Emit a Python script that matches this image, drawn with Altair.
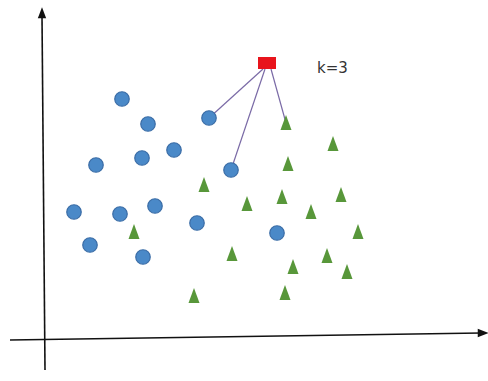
import altair as alt
import pandas as pd

# Sample points of two classes (x, y in plane coordinates, y grows downward)
circle_x = [122, 148, 209, 96, 142, 174, 231, 74, 120, 155, 197, 277, 90, 143]
circle_y = [99, 124, 118, 165, 158, 150, 170, 212, 214, 206, 223, 233, 245, 257]

tri_x = [286, 333, 288, 204, 247, 282, 341, 311, 134, 358, 232, 293, 327, 347, 194, 285]
tri_y = [123, 144, 164, 185, 204, 197, 195, 212, 232, 232, 254, 267, 256, 272, 296, 293]

# Query point and its 3 nearest neighbours
query_x, query_y = 267, 63
neighbor_x = [209, 231, 286]
neighbor_y = [118, 170, 123]
label_text = "k=3"

W, H = 488, 381
xs = alt.Scale(domain=[0, W], nice=False, zero=False)
ys = alt.Scale(domain=[H, 0], nice=False, zero=False)
X = lambda f: alt.X(f, type="quantitative", scale=xs, axis=None)
Y = lambda f: alt.Y(f, type="quantitative", scale=ys, axis=None)

circles = pd.DataFrame({"x": circle_x, "y": circle_y})
tris = pd.DataFrame({"x": tri_x, "y": tri_y})
links = pd.DataFrame({
    "x": [query_x - 4, query_x - 2, query_x + 4],
    "y": [query_y + 6] * 3,
    "x2": neighbor_x,
    "y2": neighbor_y,
})
query = pd.DataFrame({"x": [query_x - 9], "x2": [query_x + 9],
                      "y": [query_y - 6], "y2": [query_y + 6]})

# Hand-drawn style coordinate axes
axes_df = pd.DataFrame({
    "x": [42, 10], "y": [16, 340],
    "x2": [45, 481], "y2": [370, 333],
})
arrows = pd.DataFrame({"x": [42, 483], "y": [13, 333],
                       "shape": ["M0,-1.1L0.8,1L-0.8,1Z", "M1.1,0L-1,0.8L-1,-0.8Z"]})

axes = alt.Chart(axes_df).mark_rule(color="#111111", strokeWidth=1.6).encode(
    x=X("x"), y=Y("y"), x2="x2", y2="y2")
heads = alt.Chart(arrows).mark_point(filled=True, color="#111111", size=110, opacity=1).encode(
    x=X("x"), y=Y("y"), shape=alt.Shape("shape:N", scale=None))

lines = alt.Chart(links).mark_rule(color="#7a6aa6", strokeWidth=1.2).encode(
    x=X("x"), y=Y("y"), x2="x2", y2="y2")

blue = alt.Chart(circles).mark_point(
    shape="circle", filled=True, size=210, color="#4a89c8", opacity=1,
    stroke="#3a6ca6", strokeWidth=1.2).encode(x=X("x"), y=Y("y"))

green = alt.Chart(tris).mark_point(
    shape="M0,-1.15L0.8,1L-0.8,1Z", filled=True, size=190, color="#58973a", opacity=1).encode(
    x=X("x"), y=Y("y"))

red = alt.Chart(query).mark_rect(color="#e8141c").encode(
    x=X("x"), x2="x2", y=Y("y"), y2="y2")

label = alt.Chart(pd.DataFrame({"x": [317], "y": [68], "t": [label_text]})).mark_text(
    align="left", baseline="middle", fontSize=15, font="DejaVu Sans", color="#333333").encode(
    x=X("x"), y=Y("y"), text="t:N")

chart = alt.layer(axes, heads, lines, blue, green, red, label).properties(
    width=W, height=H, padding=0, autosize=alt.AutoSizeParams(type="none"),
    background="white",
).configure_view(stroke=None)

chart.save("out.html", embed_options={"renderer": "svg", "actions": False})
